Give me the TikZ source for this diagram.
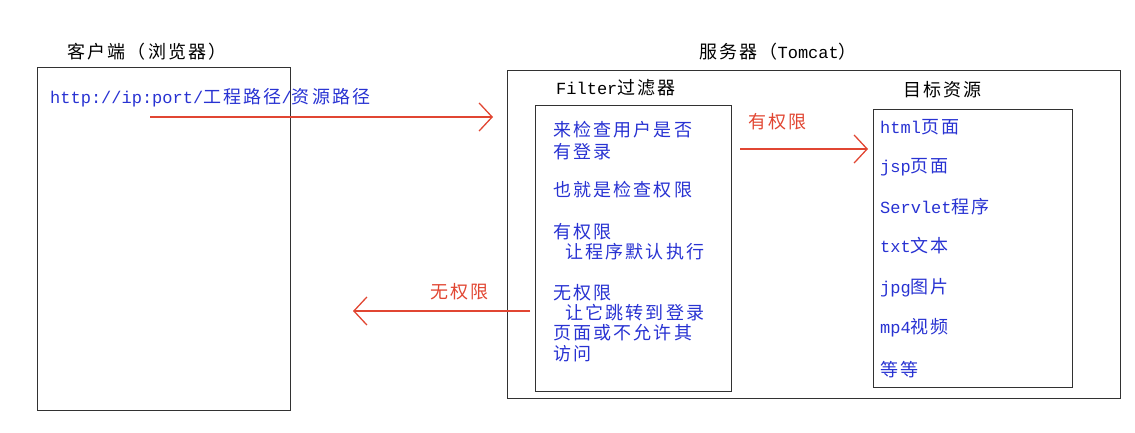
\documentclass[tikz,border=0pt]{standalone}
\usepackage{fontspec}
\newfontfamily\cjk[LetterSpace=12]{Noto Sans CJK SC}
\newfontfamily\latfont{Liberation Mono}
\newcommand\lt[1]{{\fontsize{17}{20}\selectfont\latfont #1}}
\usetikzlibrary{arrows.meta}
\definecolor{txtblue}{RGB}{40,50,210}
\definecolor{arrred}{RGB}{225,70,50}
\definecolor{boxgray}{RGB}{50,50,50}
\tikzset{
  box/.style={draw=boxgray, line width=1.4pt, anchor=north west, inner sep=0pt},
  lbl/.style={anchor=west, inner sep=0pt, font=\fontsize{18}{20}\selectfont\cjk},
  blu/.style={lbl, text=txtblue},
  rlbl/.style={lbl, text=arrred},
  redarrow/.style={draw=arrred, line width=1.3pt, -{Straight Barb[length=13pt,width=28pt,line width=1.3pt]}},
}
\begin{document}
\begin{tikzpicture}[x=1pt,y=-1pt]
\useasboundingbox (0,0) rectangle (1135,433);
% boxes
\node[box, minimum width=253pt, minimum height=343pt] (client) at (37,67) {};
\node[box, minimum width=613pt, minimum height=328pt] (server) at (507,70) {};
\node[box, minimum width=196pt, minimum height=286pt] (filter) at (535,105) {};
\node[box, minimum width=199pt, minimum height=278pt] (target) at (873,109) {};
% titles
\node[lbl, anchor=center] (clientlbl) at (147,52) {客户端（浏览器）};
\node[lbl, anchor=center] (serverlbl) at (778,52) {服务器（\lt{Tomcat}）};
\node[lbl] (filterlbl) at (556,88) {\lt{Filter}过滤器};
\node[lbl] (targetlbl) at (903,90) {目标资源};
% url
\node[blu] (url) at (50,98) {\lt{http://ip:port/}工程路径\lt{/}资源路径};
% filter texts
\node[blu] (f1) at (553,130) {来检查用户是否};
\node[blu] (f2) at (553,152) {有登录};
\node[blu] (f3) at (553,190) {也就是检查权限};
\node[blu] (f4) at (553,232) {有权限};
\node[blu] (f5) at (553,252) {\hspace{12pt}让程序默认执行};
\node[blu] (f6) at (553,293) {无权限};
\node[blu] (f7) at (553,313) {\hspace{12pt}让它跳转到登录};
\node[blu] (f8) at (553,333) {页面或不允许其};
\node[blu] (f9) at (553,354) {访问};
% target items
\node[blu] (t1) at (880,127) {\lt{html}页面};
\node[blu] (t2) at (880,167) {\lt{jsp}页面};
\node[blu] (t3) at (880,207) {\lt{Servlet}程序};
\node[blu] (t4) at (880,246) {\lt{txt}文本};
\node[blu] (t5) at (880,288) {\lt{jpg}图片};
\node[blu] (t6) at (880,328) {\lt{mp4}视频};
\node[blu] (t7) at (880,370) {等等};
% arrow labels
\node[rlbl] (yes) at (748,122) {有权限};
\node[rlbl] (no) at (430,292) {无权限};
% arrow endpoints
\coordinate (a1s) at (150,117);
\coordinate (a1e) at (493,117);
\coordinate (a2s) at (740,149);
\coordinate (a2e) at (868,149);
\coordinate (a3s) at (530,311);
\coordinate (a3e) at (353,311);
\draw[redarrow] (a1s) -- (a1e);
\draw[redarrow] (a2s) -- (a2e);
\draw[redarrow] (a3s) -- (a3e);
\end{tikzpicture}
\end{document}
